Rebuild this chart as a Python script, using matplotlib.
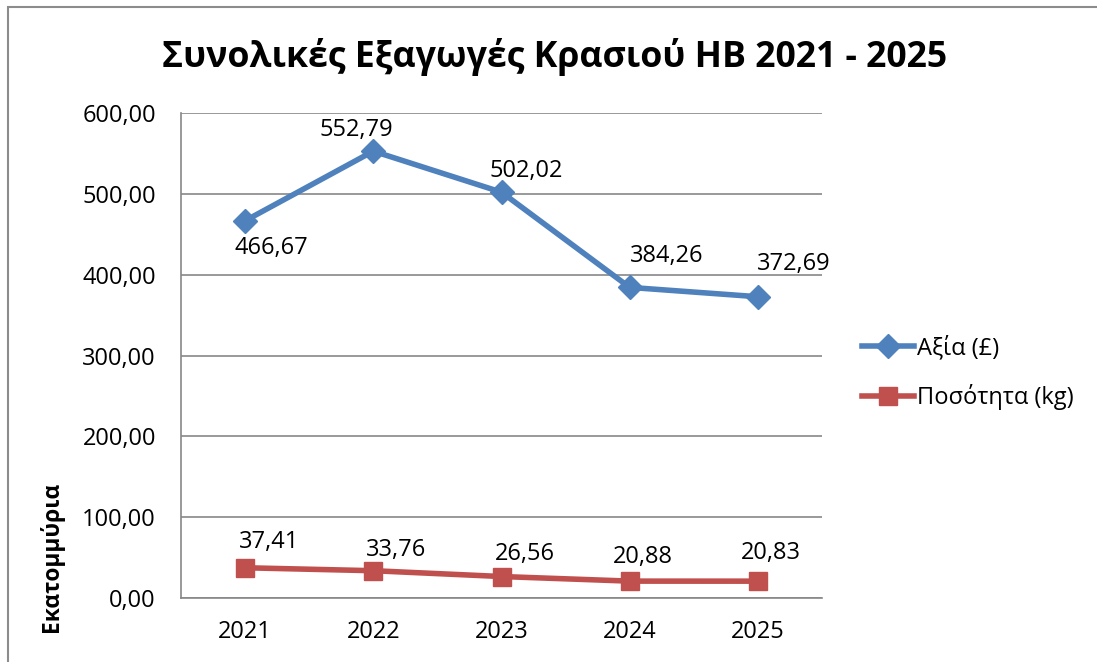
#!/usr/bin/env python3
# -*- coding: utf-8 -*-

import matplotlib
matplotlib.use("Agg")
from matplotlib import pyplot as plt
from matplotlib.patches import Rectangle

# data
years = ["2021", "2022", "2023", "2024", "2025"]
value_gbp = [466.67, 552.79, 502.02, 384.26, 372.69]
quantity_kg = [37.41, 33.76, 26.56, 20.88, 20.83]
y_ticks = [0, 100, 200, 300, 400, 500, 600]

# label offsets in pixels (where Excel put the data labels)
value_offsets = [(26, -27), (-17, 21), (25, 21), (37, 31), (36, 33)]
qty_offsets = [(24, 26), (23, 21), (23, 23), (13, 24), (13, 28)]

C_blue = "#4F81BD"
C_red = "#C0504D"
C_grid = "#878787"
FS = 17

plt.rcParams['font.family'] = ['Open Sans', 'DejaVu Sans']

W, H = 1097, 662
fig = plt.figure(figsize=(W / 100, H / 100), dpi=100)
ax = fig.add_axes([181 / W, 1 - 598 / H, (822 - 181) / W, (598 - 113) / H])


def fmt(v):
    return f"{v:.2f}".replace(".", ",")


x = list(range(len(years)))
ax.plot(x, value_gbp, color=C_blue, lw=4, marker="D", ms=12, label="Αξία (£)",
        solid_joinstyle="round", zorder=3)
ax.plot(x, quantity_kg, color=C_red, lw=4, marker="s", ms=13.5, label="Ποσότητα (kg)",
        zorder=3)

for xi, v, off in zip(x, value_gbp, value_offsets):
    ax.annotate(fmt(v), (xi, v), xytext=off, textcoords="offset pixels",
                ha="center", va="center", fontsize=FS)
for xi, v, off in zip(x, quantity_kg, qty_offsets):
    ax.annotate(fmt(v), (xi, v), xytext=off, textcoords="offset pixels",
                ha="center", va="center", fontsize=FS)

ax.set_xlim(-0.5, len(years) - 0.5)
ax.set_ylim(0, 600)
ax.set_xticks(x)
ax.set_xticklabels(years)
ax.set_yticks(y_ticks)
ax.set_yticklabels([fmt(t) for t in y_ticks])
ax.tick_params(axis="both", length=0, labelsize=FS, pad=18)
ax.tick_params(axis="x", pad=16)
ax.yaxis.grid(True, color=C_grid, lw=1.2)
ax.set_axisbelow(True)
for s in ["top", "right"]:
    ax.spines[s].set_visible(False)
for s in ["left", "bottom"]:
    ax.spines[s].set_color(C_grid)
    ax.spines[s].set_linewidth(1.2)

fig.text(555 / W, 1 - 57 / H, "Συνολικές Εξαγωγές Κρασιού ΗΒ 2021 - 2025",
         ha="center", va="center", fontsize=25.7, fontweight="bold")
fig.text(52 / W, 1 - 557 / H, "Εκατομμύρια", rotation=90, ha="center", va="center",
         fontsize=16.4, fontweight="bold")

fig.legend(loc="center left", bbox_to_anchor=(862 / W, 1 - 373 / H), frameon=False,
           fontsize=FS, handlelength=2.2, handletextpad=0.12, labelspacing=1.0,
           borderpad=0, borderaxespad=0)

# chart frame
fig.patches.append(Rectangle((8 / W, -0.1), 1.2, 1.1 - 6.5 / H, transform=fig.transFigure,
                             fill=False, edgecolor="#8C8C8C", lw=1.5))

fig.savefig("out.png", dpi=100)
